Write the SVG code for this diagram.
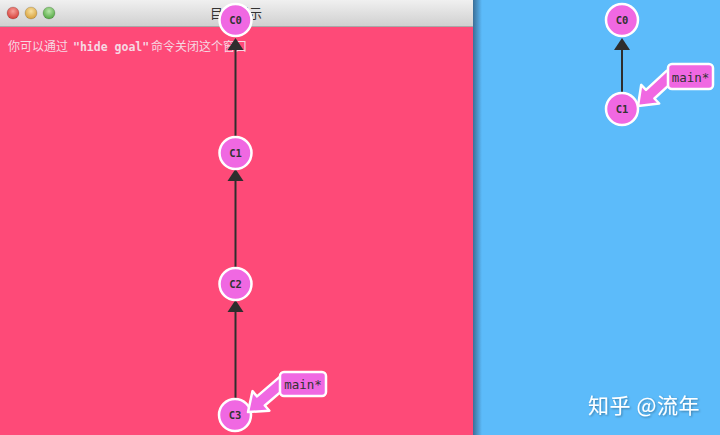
<svg xmlns="http://www.w3.org/2000/svg" width="720" height="435" viewBox="0 0 720 435">
<defs>
<linearGradient id="titleGrad" x1="0" y1="0" x2="0" y2="1">
<stop offset="0" stop-color="#f0f0f0"/>
<stop offset="1" stop-color="#cfcfcf"/>
</linearGradient>
<linearGradient id="shadowGrad" x1="0" y1="0" x2="1" y2="0">
<stop offset="0" stop-color="#3b6f98"/>
<stop offset="1" stop-color="#5cbbfa"/>
</linearGradient>
<radialGradient id="red" cx="0.5" cy="0.35" r="0.6"><stop offset="0" stop-color="#f7a09a"/><stop offset="1" stop-color="#d7443d"/></radialGradient>
<radialGradient id="yellow" cx="0.5" cy="0.35" r="0.6"><stop offset="0" stop-color="#f8e0a0"/><stop offset="1" stop-color="#d9a440"/></radialGradient>
<radialGradient id="green" cx="0.5" cy="0.35" r="0.6"><stop offset="0" stop-color="#b8e6a8"/><stop offset="1" stop-color="#58ab48"/></radialGradient>
<filter id="wmShadow" x="-10%" y="-30%" width="120%" height="160%">
<feDropShadow dx="1" dy="1" stdDeviation="1" flood-color="#000" flood-opacity="0.35"/>
</filter>
</defs>
<style>
.commit circle { fill: #f068e2; stroke: #ffffff; stroke-width: 2.5; }
.commit text { font-family: "DejaVu Sans Mono", monospace; font-weight: bold; font-size: 10.5px; fill: #333333; text-anchor: middle; dominant-baseline: central; }
.edge { stroke: #2e2e2e; stroke-width: 2; fill: none; }
.head { fill: #2e2e2e; }
.branch rect, .branch polygon { fill: #f068e2; stroke: #ffffff; stroke-width: 2.5; stroke-linejoin: round; }
.branch text { font-family: "DejaVu Sans Mono", monospace; font-size: 12.5px; fill: #333333; text-anchor: middle; dominant-baseline: central; }
.light { stroke: rgba(0,0,0,0.25); stroke-width: 0.6; }
</style>

<!-- backgrounds -->
<rect x="0" y="0" width="720" height="435" fill="#5cbbfa"/>
<rect x="473" y="0" width="9" height="435" fill="url(#shadowGrad)"/>
<rect x="0" y="27" width="473" height="408" fill="#fe4a78"/>

<!-- title bar -->
<g id="titlebar">
<rect x="0" y="0" width="473" height="27" fill="url(#titleGrad)"/>
<line x1="0" y1="26.5" x2="473" y2="26.5" stroke="#a8a8a8" stroke-width="1"/>
<circle class="light" cx="13" cy="13" r="6" fill="url(#red)"/>
<circle class="light" cx="31" cy="13" r="6" fill="url(#yellow)"/>
<circle class="light" cx="49" cy="13" r="6" fill="url(#green)"/>
<text x="236" y="18" text-anchor="middle" font-family="'Noto Sans CJK SC', sans-serif" font-size="13" fill="#333333">目标提示</text>
</g>

<!-- hint text -->
<text id="hint" x="8" y="51" font-family="'Noto Sans CJK SC', sans-serif" font-size="12" fill="#f6d9e3">你可以通过<tspan x="73" font-family="'DejaVu Sans Mono', monospace" font-weight="bold" font-size="11.5">"hide goal"</tspan><tspan x="151">命令关闭这个窗口</tspan></text>

<!-- connectors -->
<g id="connectors">
<line class="edge" x1="235.5" y1="153" x2="235.5" y2="48"/>
<polygon class="head" points="235.5,38 227.5,50 243.5,50"/>
<line class="edge" x1="235.5" y1="284" x2="235.5" y2="180"/>
<polygon class="head" points="235.5,169 227.5,181 243.5,181"/>
<line class="edge" x1="235.5" y1="415" x2="235.5" y2="311"/>
<polygon class="head" points="235.5,300 227.5,312 243.5,312"/>
<line class="edge" x1="622" y1="109" x2="622" y2="48"/>
<polygon class="head" points="622,38 614,50 630,50"/>
</g>

<!-- left tree nodes -->
<g id="C0" class="commit"><circle cx="235.5" cy="20" r="16"/><text x="235.5" y="20">C0</text></g>
<g id="C1" class="commit"><circle cx="235.5" cy="153" r="16"/><text x="235.5" y="153">C1</text></g>
<g id="C2" class="commit"><circle cx="235.5" cy="284" r="16"/><text x="235.5" y="284">C2</text></g>
<g id="C3" class="commit"><circle cx="235" cy="415" r="16"/><text x="235" y="415">C3</text></g>

<g id="main-left" class="branch">
<polygon points="279.1,377.4 257.0,396.4 252.5,391.1 248,412 269.4,410.8 264.8,405.5 286.9,386.6"/>
<rect x="280" y="372" width="46" height="24" rx="4"/>
<text x="303" y="384.5">main*</text>
</g>

<!-- right tree nodes -->
<g id="R-C0" class="commit"><circle cx="622" cy="20" r="16"/><text x="622" y="20">C0</text></g>
<g id="R-C1" class="commit"><circle cx="622" cy="109" r="16"/><text x="622" y="109">C1</text></g>

<g id="main-right" class="branch">
<polygon points="666.8,70.7 646.0,89.9 641.2,84.9 638,106 659.2,103.5 654.4,98.5 675.2,79.3"/>
<rect x="668" y="64" width="45" height="25" rx="4"/>
<text x="690.5" y="77">main*</text>
</g>

<!-- watermark -->
<text id="watermark" x="588" y="413" font-family="'Noto Sans CJK SC', sans-serif" font-size="21" letter-spacing="0.6" fill="#ffffff" filter="url(#wmShadow)">知乎 @流年</text>
</svg>
